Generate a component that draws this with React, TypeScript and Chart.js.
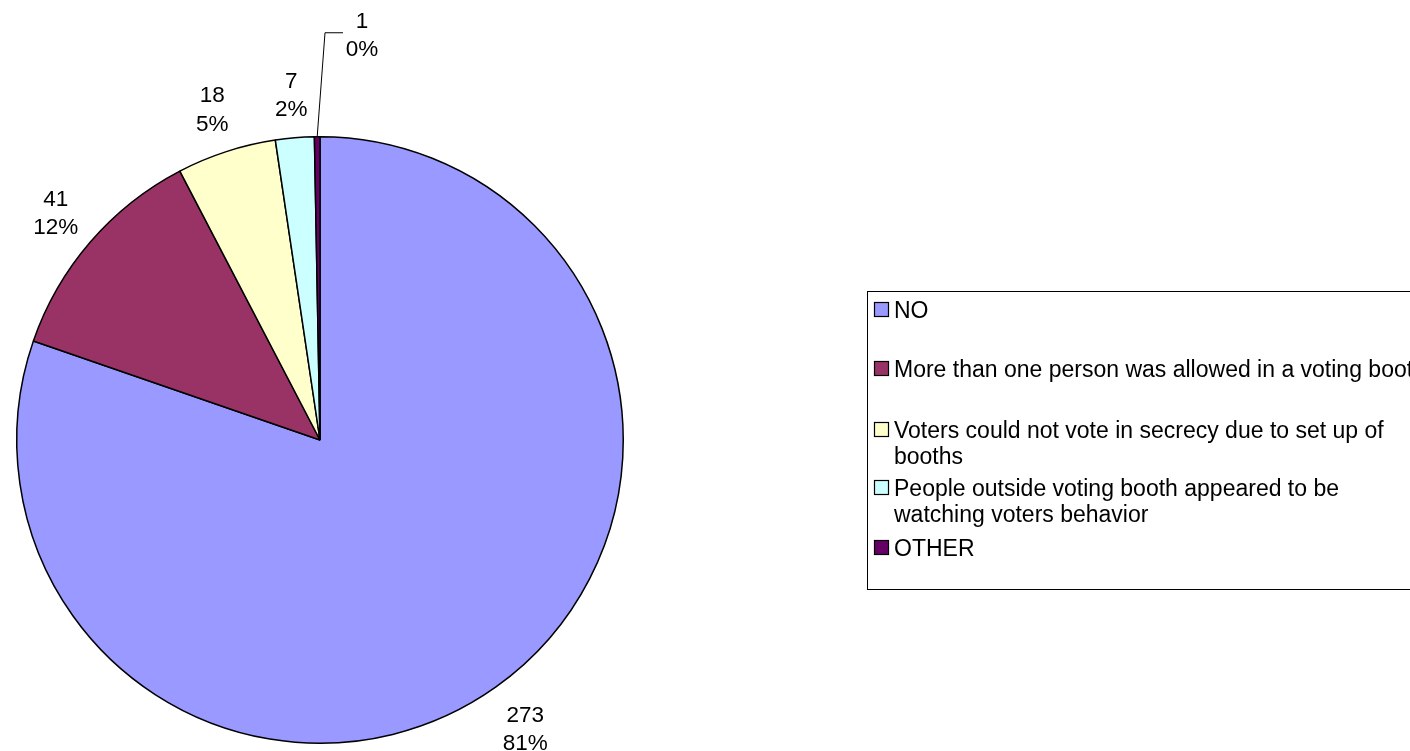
import React, { useEffect, useRef } from "react";
import { Chart, registerables } from "chart.js";

Chart.register(...registerables);

const categories = [
  "NO",
  "More than one person was allowed in a voting booth",
  "Voters could not vote in secrecy due to set up of booths",
  "People outside voting booth appeared to be watching voters behavior",
  "OTHER",
];
const values = [273, 41, 18, 7, 1];
const percentLabels = ["81%", "12%", "5%", "2%", "0%"];
const colors = ["#9999FF", "#993366", "#FFFFCC", "#CCFFFF", "#660066"];
const legendLines = [
  ["NO"],
  ["More than one person was allowed in a voting booth"],
  ["Voters could not vote in secrecy due to set up of", "booths"],
  ["People outside voting booth appeared to be", "watching voters behavior"],
  ["OTHER"],
];

const FONT = "'Liberation Sans', Arial, sans-serif";

const labelPlugin = {
  id: "pieLabels",
  afterDatasetsDraw(chart: any) {
    const ctx = chart.ctx;
    const meta = chart.getDatasetMeta(0);
    const total = values.reduce((a, b) => a + b, 0);
    ctx.save();
    ctx.font = `22.5px ${FONT}`;
    ctx.fillStyle = "#000";
    ctx.textAlign = "center";
    ctx.textBaseline = "alphabetic";
    const lineGap = 28.5;
    meta.data.forEach((arc: any, i: number) => {
      const { x, y, startAngle, endAngle, outerRadius } = arc.getProps(
        ["x", "y", "startAngle", "endAngle", "outerRadius"],
        true
      );
      const mid = (startAngle + endAngle) / 2;
      const dx = Math.cos(mid);
      const dy = Math.sin(mid);
      const l1 = String(values[i]);
      const l2 = percentLabels[i];
      const hw = Math.max(ctx.measureText(l1).width, ctx.measureText(l2).width) / 2;
      const hh = 28;
      let lx: number, ly: number;
      if (values[i] / total < 0.01) {
        // leader-line label
        const sx = x + outerRadius * dx;
        const sy = y + outerRadius * dy;
        lx = x + 42;
        ly = y - outerRadius - 103;
        ctx.save();
        ctx.strokeStyle = "#000";
        ctx.lineWidth = 1;
        ctx.beginPath();
        ctx.moveTo(sx, sy);
        ctx.lineTo(lx - 37, ly - 1);
        ctx.lineTo(lx - 19, ly - 1);
        ctx.stroke();
        ctx.restore();
      } else {
        const ext = Math.min(
          Math.abs(dx) > 1e-6 ? hw / Math.abs(dx) : 1e9,
          Math.abs(dy) > 1e-6 ? hh / Math.abs(dy) : 1e9
        );
        const d = outerRadius + 16 + ext;
        lx = x + d * dx;
        ly = y + d * dy;
      }
      ctx.fillText(l1, lx, ly - lineGap / 2 + 8);
      ctx.fillText(l2, lx, ly + lineGap / 2 + 8);
    });
    ctx.restore();
  },
};

const legendPlugin = {
  id: "boxLegend",
  afterDraw(chart: any) {
    const ctx = chart.ctx;
    const boxL = 867;
    const boxT = 291;
    const boxB = 589;
    const rowY = [310, 369, 430, 488, 548];
    const lineH = 26;
    ctx.save();
    ctx.strokeStyle = "#000";
    ctx.lineWidth = 1;
    ctx.strokeRect(boxL + 0.5, boxT + 0.5, 700, boxB - boxT);
    ctx.font = `23px ${FONT}`;
    ctx.textAlign = "left";
    ctx.textBaseline = "alphabetic";
    legendLines.forEach((lines, i) => {
      const y0 = rowY[i];
      ctx.fillStyle = colors[i];
      ctx.fillRect(874, y0 - 8, 15, 15);
      ctx.strokeStyle = "#000";
      ctx.lineWidth = 1.2;
      ctx.strokeRect(874.5, y0 - 7.5, 14, 14);
      ctx.fillStyle = "#000";
      lines.forEach((t, j) => {
        ctx.fillText(t, 894, y0 + 8 + j * lineH);
      });
    });
    ctx.restore();
  },
};

export default function App() {
  const ref = useRef<HTMLCanvasElement | null>(null);
  useEffect(() => {
    document.body.style.margin = "0";
    const canvas = ref.current!;
    const chart = new Chart(canvas, {
      type: "pie",
      data: {
        labels: categories,
        datasets: [
          {
            data: values,
            backgroundColor: colors,
            borderColor: "#000",
            borderWidth: 1.5,
          },
        ],
      },
      options: {
        responsive: false,
        animation: false,
        events: [],
        layout: { padding: { left: 16, top: 136, right: 786, bottom: 7 } },
        plugins: {
          legend: { display: false },
          tooltip: { enabled: false },
          title: { display: false },
        },
      },
      plugins: [labelPlugin, legendPlugin],
    });
    return () => chart.destroy();
  }, []);
  return (
    <div style={{ position: "absolute", left: 0, top: 0, width: 1410, height: 751, background: "#fff" }}>
      <canvas ref={ref} width={1410} height={751} style={{ display: "block" }} />
    </div>
  );
}
